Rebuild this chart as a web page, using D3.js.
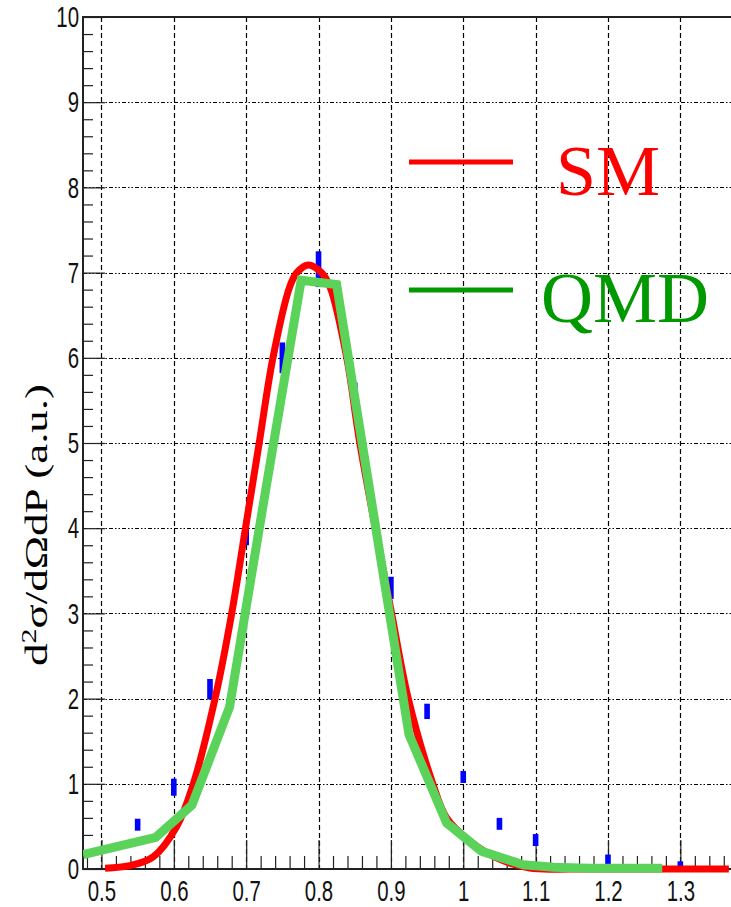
<!DOCTYPE html>
<html>
<head>
<meta charset="utf-8">
<script src="https://cdn.jsdelivr.net/npm/d3@7"></script>
<style>
  html, body { margin: 0; padding: 0; background: #fff; }
  svg { display: block; }
</style>
</head>
<body>
<div id="chart"></div>
<script>
// Momentum axis ticks and cross-section axis ticks
const xMajorTicks = [0.5, 0.6, 0.7, 0.8, 0.9, 1.0, 1.1, 1.2, 1.3];
const yMajorTicks = [0, 1, 2, 3, 4, 5, 6, 7, 8, 9, 10];

// Measured spectrum (P, value, error)
const dataP   = [0.55, 0.60, 0.65, 0.70, 0.75, 0.80, 0.85, 0.90, 0.95, 1.00, 1.05, 1.10, 1.20, 1.30];
const dataY   = [0.52, 0.96, 2.11, 3.95, 6.00, 7.04, 5.53, 3.30, 1.85, 1.08, 0.53, 0.34, 0.10, 0.05];
const dataErr = [0.07, 0.10, 0.12, 0.15, 0.18, 0.21, 0.18, 0.13, 0.09, 0.07, 0.07, 0.07, 0.07, 0.04];

// SM calculation (smooth curve)
const smP = [0.505, 0.539, 0.571, 0.604, 0.627, 0.657, 0.680, 0.699, 0.718, 0.737, 0.760, 0.770, 0.786,
             0.804, 0.816, 0.839, 0.857, 0.887, 0.901, 0.924, 0.958, 0.977, 1.009, 1.046, 1.092, 1.15, 1.25, 1.367];
const smY = [0.01, 0.04, 0.14, 0.50, 1.00, 2.00, 3.00, 4.00, 5.00, 6.00, 6.83, 7.00, 7.09,
             7.00, 6.83, 6.00, 5.00, 3.62, 3.00, 2.00, 1.00, 0.60, 0.33, 0.13, 0.01, 0.0, 0.0, 0.0];

// QMD calculation (binned, joined by straight segments)
const qmdP = [0.4745, 0.575, 0.625, 0.677, 0.726, 0.776, 0.825, 0.875, 0.925, 0.977, 1.025, 1.083, 1.125, 1.175, 1.225, 1.275];
const qmdY = [0.17, 0.37, 0.75, 1.90, 4.40, 6.91, 6.86, 4.22, 1.58, 0.54, 0.21, 0.05, 0.02, 0.01, 0.01, 0.01];

const legendNames = ["SM", "QMD"];
const legendColors = ["#ff0000", "#009900"];

const W = 731, H = 907;
const svg = d3.select("#chart").append("svg").attr("width", W).attr("height", H);

const x = d3.scaleLinear().domain([0.4745, 1.37]).range([83, 731]);
const y = d3.scaleLinear().domain([0, 10]).range([869, 17]);

const xMinor = d3.range(0.48, 1.37, 0.02).map(v => +v.toFixed(2))
  .filter(v => !xMajorTicks.some(t => Math.abs(t - v) < 1e-6));
const yMinor = d3.range(0, 10.01, 0.2).map(v => +v.toFixed(1))
  .filter(v => !yMajorTicks.some(t => Math.abs(t - v) < 1e-6));

// grid
const grid = svg.append("g").attr("stroke", "#000").attr("stroke-width", 1.2).attr("fill", "none");
grid.selectAll("line.v").data(xMajorTicks).join("line")
  .attr("x1", d => Math.round(x(d)) + 0.5).attr("x2", d => Math.round(x(d)) + 0.5)
  .attr("y1", y(10)).attr("y2", y(0))
  .attr("stroke-dasharray", "5,3");
grid.selectAll("line.h").data(yMajorTicks.slice(1, -1)).join("line")
  .attr("x1", x.range()[0]).attr("x2", x.range()[1])
  .attr("y1", d => Math.round(y(d)) + 0.5).attr("y2", d => Math.round(y(d)) + 0.5)
  .attr("stroke-dasharray", "4,2,1.5,2,1.5,2");

// axes: ticks point inward
const fmt = d => String(+d.toFixed(1));
const gx = svg.append("g").attr("transform", `translate(0,${y(0)})`)
  .call(d3.axisBottom(x).tickValues(xMajorTicks).tickSize(-29).tickPadding(11).tickFormat(fmt));
const gxm = svg.append("g").attr("transform", `translate(0,${y(0)})`)
  .call(d3.axisBottom(x).tickValues(xMinor).tickSize(-13).tickFormat(""));
const gy = svg.append("g").attr("transform", `translate(${x.range()[0]},0)`)
  .call(d3.axisLeft(y).tickValues(yMajorTicks).tickSize(-22).tickPadding(4).tickFormat(fmt));
const gym = svg.append("g").attr("transform", `translate(${x.range()[0]},0)`)
  .call(d3.axisLeft(y).tickValues(yMinor).tickSize(-10).tickFormat(""));

[gx, gxm, gy, gym].forEach(g => {
  g.select(".domain").remove();
  g.selectAll(".tick line").attr("stroke", "#222").attr("stroke-width", 1.2);
});
gx.selectAll("text")
  .attr("font-family", "'Liberation Sans', Arial, sans-serif").attr("font-size", 30).attr("fill", "#111")
  .attr("transform", "scale(0.68,1)");
gy.selectAll("text")
  .attr("font-family", "'Liberation Sans', Arial, sans-serif").attr("font-size", 30).attr("fill", "#111")
  .attr("x", -4 / 0.68)
  .attr("transform", "scale(0.68,1)");

// frame
const frame = svg.append("g").attr("stroke", "#222").attr("stroke-width", 2).attr("fill", "none");
frame.append("line").attr("x1", x.range()[0]).attr("x2", x.range()[0]).attr("y1", y(10) - 1).attr("y2", y(0) + 1);
frame.append("line").attr("x1", x.range()[0]).attr("x2", W).attr("y1", y(0)).attr("y2", y(0));
frame.append("line").attr("x1", x.range()[0]).attr("x2", W).attr("y1", y(10)).attr("y2", y(10));

// clip region for curves
svg.append("clipPath").attr("id", "plot")
  .append("rect").attr("x", x.range()[0]).attr("y", y(10)).attr("width", W - x.range()[0]).attr("height", y(0) - y(10) + 6);

// data points with error bars
const pts = svg.append("g").attr("fill", "#0000ff");
pts.selectAll("rect").data(dataP.map((p, i) => ({ p, v: dataY[i], e: dataErr[i] }))).join("rect")
  .attr("x", d => x(d.p) - 2.8)
  .attr("width", 5.6)
  .attr("y", d => Math.min(y(d.v + d.e), y(d.v) - 3))
  .attr("height", d => Math.max(y(d.v - d.e) - y(d.v + d.e), 6));

// curves
const curveG = svg.append("g").attr("clip-path", "url(#plot)").attr("fill", "none");
const smLine = d3.line().x(d => x(d[0])).y(d => y(d[1])).curve(d3.curveCatmullRom.alpha(0.5));
curveG.append("path").datum(smP.map((p, i) => [p, smY[i]]))
  .attr("d", smLine).attr("stroke", "#ff0000").attr("stroke-width", 7).attr("stroke-linejoin", "round");
const qmdLine = d3.line().x(d => x(d[0])).y(d => y(d[1]));
curveG.append("path").datum(qmdP.map((p, i) => [p, qmdY[i]]))
  .attr("d", qmdLine).attr("stroke", "#5bd35b").attr("stroke-width", 9).attr("stroke-linejoin", "miter");

// legend
const legY = [162, 290];
const legTextX = [556, 541];
const legTextY = [195, 322];
const leg = svg.append("g");
legendNames.forEach((name, i) => {
  leg.append("line").attr("x1", 409).attr("x2", 513).attr("y1", legY[i]).attr("y2", legY[i])
    .attr("stroke", legendColors[i]).attr("stroke-width", 5);
  leg.append("text").attr("x", legTextX[i]).attr("y", legTextY[i])
    .attr("font-family", "'Liberation Serif', 'Times New Roman', serif").attr("font-size", 72)
    .attr("fill", legendColors[i]).text(name);
});

// y-axis title
const title = svg.append("text")
  .attr("transform", "translate(47,525) scale(0.68,1) rotate(-90)")
  .attr("text-anchor", "middle")
  .attr("font-family", "'Liberation Serif', 'Times New Roman', serif").attr("font-size", 45)
  .attr("fill", "#000");
title.append("tspan").text("d");
title.append("tspan").attr("font-size", 30).attr("dy", -16).text("2");
title.append("tspan").attr("dy", 16).text("σ/dΩdP (a.u.)");
</script>
</body>
</html>
